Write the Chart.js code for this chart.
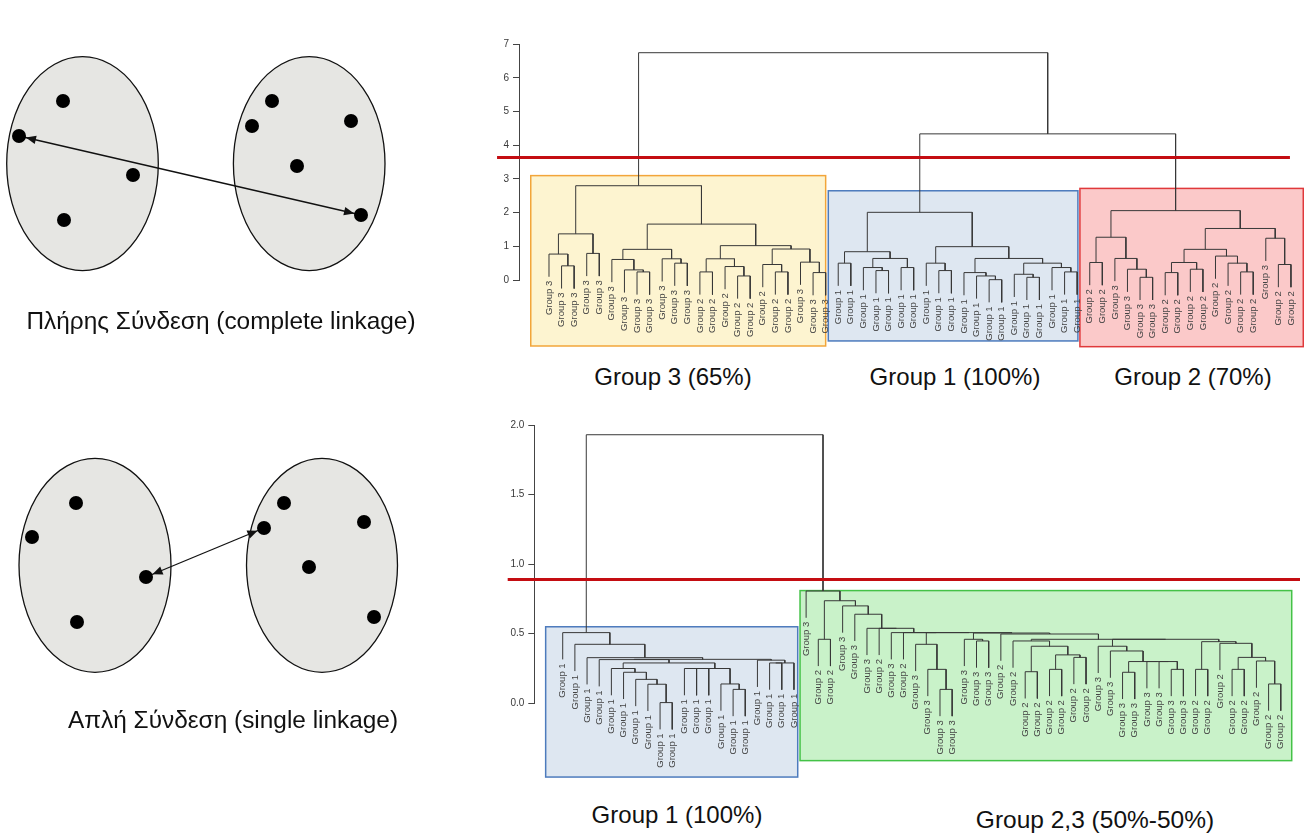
<!DOCTYPE html>
<html>
<head>
<meta charset="utf-8">
<script src="https://cdn.jsdelivr.net/npm/chart.js@4.4.1/dist/chart.umd.min.js"></script>
<style>
  html, body { margin: 0; padding: 0; background: #fff; }
  body { width: 1304px; height: 836px; position: relative; overflow: hidden; font-family: "Liberation Sans", Arial, sans-serif; }
  canvas { position: absolute; }
  .cap { position: absolute; transform: translate(-50%, -50%); white-space: nowrap; color: #111; font-size: 24px; }
</style>
</head>
<body>
<canvas id="diag-complete" width="420" height="300" style="left:0;top:40px"></canvas>
<canvas id="diag-single" width="420" height="300" style="left:0;top:440px"></canvas>
<canvas id="dendro-complete" width="834" height="340" style="left:470px;top:20px"></canvas>
<canvas id="dendro-single" width="834" height="375" style="left:470px;top:410px"></canvas>

<div class="cap" style="left:221px;top:321px;font-size:24.4px">Πλήρης Σύνδεση (complete linkage)</div>
<div class="cap" style="left:233px;top:720px;font-size:24.4px">Απλή Σύνδεση (single linkage)</div>
<div class="cap" style="left:673px;top:377px">Group 3 (65%)</div>
<div class="cap" style="left:955px;top:377px">Group 1 (100%)</div>
<div class="cap" style="left:1193px;top:377px">Group 2 (70%)</div>
<div class="cap" style="left:677px;top:815px">Group 1 (100%)</div>
<div class="cap" style="left:1095px;top:820px;font-size:24.5px">Group 2,3 (50%-50%)</div>

<script>
// ---- toy clusters (left) : point positions inside each panel ----
const completePtsX = [63, 19, 133, 64, 272, 252, 351, 297, 361];
const completePtsY = [61, 96, 135, 180, 61, 86, 81, 126, 175];
const completeLink = [1, 8];   // the two farthest points
const singlePtsX = [76, 32, 146, 77, 284, 264, 364, 309, 374];
const singlePtsY = [63, 97, 137, 182, 63, 88, 82, 127, 177];
const singleLink = [2, 5];     // the two nearest points

// ---- complete linkage dendrogram (hclust style: -k = leaf k, +k = merge row k) ----
const topLeafGroups = [3,3,3,3,3,3,3,3,3,3,3,3, 2,2,2,2,2,2,2,2, 3,3,3,
  1,1,1,1,1,1,1,1,1,1,1,1,1,1,1,1,1,1,1,1,
  2,2,3,3,3,3,2,2,2,2,2,2,2,2,3,2,2];
const topMerges = [[-2,-3],[-1,1],[-4,-5],[2,3],[-8,-9],[-7,5],[-6,6],[-11,-12],[-10,8],[7,9],
  [-13,-14],[-16,-17],[-15,12],[11,13],[-19,-20],[-18,15],[-22,-23],[-21,17],[16,18],[14,19],[10,20],[4,21],
  [-24,-25],[-27,-28],[-26,24],[-29,-30],[25,26],[23,27],[-32,-33],[-31,29],[-36,-37],[-35,31],[-34,32],
  [-39,-40],[-38,34],[-42,-43],[-41,36],[35,37],[33,38],[30,39],[28,40],
  [-44,-45],[-48,-49],[-47,43],[-46,44],[42,45],[-50,-51],[-52,-53],[47,48],[-56,-57],[-55,50],[-54,51],
  [49,52],[-59,-60],[-58,54],[53,55],[46,56],[41,57],[22,58]];
const topHeights = [0.42,0.77,0.79,1.37,0.24,0.30,0.61,0.50,0.63,0.91,
  0.24,0.12,0.40,0.63,0.24,0.46,0.22,0.53,0.92,1.02,1.66,2.80,
  0.50,0.28,0.37,0.37,0.64,0.84,0.28,0.50,0.01,0.12,0.22,
  0.08,0.17,0.24,0.37,0.50,0.64,0.99,2.01,
  0.52,0.08,0.32,0.64,1.27,0.22,0.32,0.52,0.24,0.50,0.71,
  0.91,0.46,1.24,1.53,2.06,4.34,6.75];
const topCut = 3.64;

// ---- single linkage dendrogram ----
const botLeafGroups = [1,1,1,1,1,1,1,1,1,1,1,1,1,1,1,1,1,1,1,1,
  3,2,2,3,3,3,2,3,2,3, 3,3,3,3,3,3,2,2,2,2,
  2,2,2,2,3,3,3,3,3,3, 3,3,2,2,2,2,2,2,2,2];
const botMerges = [[-15,-16],[-14,1],[-11,-12],[3,-13],[4,2],[-9,-10],[-8,6],[-7,7],[-6,8],[-5,9],
  [-18,-19],[11,-20],[-17,12],[10,5],[-4,14],[15,13],[-3,16],[-2,17],[-1,18],
  [-22,-23],[-32,-33],[-31,21],[-30,22],[-35,-36],[-34,24],[-39,-40],[-41,-42],[-43,-44],[27,28],
  [26,29],[-38,30],[-47,-48],[-51,-52],[-50,33],[-49,34],[32,35],[-46,36],[-45,37],[-53,-54],
  [-59,-60],[-58,40],[-56,-57],[42,41],[-55,43],[39,44],[38,45],[31,46],[-37,47],[25,48],
  [23,49],[-29,50],[-28,51],[-27,52],[-26,53],[-25,54],[-24,55],[20,56],[-21,57],[19,58]];
const botHeights = [0.10,0.139,0.25,0.25,0.25,0.005,0.137,0.172,0.223,0.25,
  0.29,0.29,0.31,0.29,0.314,0.316,0.328,0.424,0.508,
  0.46,0.10,0.244,0.424,0.448,0.46,0.227,0.244,0.33,0.348,
  0.41,0.448,0.223,0.244,0.30,0.30,0.30,0.376,0.41,0.244,
  0.139,0.304,0.244,0.33,0.431,0.443,0.46,0.46,0.498,0.505,
  0.508,0.508,0.508,0.539,0.539,0.64,0.70,0.737,0.807,1.93];
const botCut = 0.89;

const FONT = '"Liberation Sans", Arial, sans-serif';

// ---------- left panels ----------
function clusterDiagram(id, xs, ys, link, blobs) {
  const pts = xs.map((x, i) => ({ x, y: ys[i] }));
  const decor = {
    id: 'blobs',
    beforeDatasetsDraw(chart) {
      const { ctx, scales: { x, y } } = chart;
      ctx.save();
      blobs.forEach(b => {
        const cx = x.getPixelForValue(b.cx), cy = y.getPixelForValue(b.cy);
        const rx = Math.abs(x.getPixelForValue(b.cx + b.rx) - cx);
        const ry = Math.abs(y.getPixelForValue(b.cy + b.ry) - cy);
        ctx.beginPath();
        ctx.ellipse(cx, cy, rx, ry, 0, 0, Math.PI * 2);
        ctx.fillStyle = '#e6e6e3';
        ctx.fill();
        ctx.lineWidth = 1.3;
        ctx.strokeStyle = '#111';
        ctx.stroke();
      });
      ctx.restore();
    },
    afterDatasetsDraw(chart) {
      const { ctx, scales: { x, y } } = chart;
      const a = pts[link[0]], b = pts[link[1]];
      const ax = x.getPixelForValue(a.x), ay = y.getPixelForValue(a.y);
      const bx = x.getPixelForValue(b.x), by = y.getPixelForValue(b.y);
      const ang = Math.atan2(by - ay, bx - ax);
      const head = (px, py, dir) => {
        const tx = px + Math.cos(dir) * 7, ty = py + Math.sin(dir) * 7;
        ctx.beginPath();
        ctx.moveTo(tx, ty);
        ctx.lineTo(tx + Math.cos(dir + 0.4) * 11, ty + Math.sin(dir + 0.4) * 11);
        ctx.lineTo(tx + Math.cos(dir - 0.4) * 11, ty + Math.sin(dir - 0.4) * 11);
        ctx.closePath();
        ctx.fill();
      };
      ctx.save();
      ctx.fillStyle = '#111';
      head(ax, ay, ang);
      head(bx, by, ang + Math.PI);
      ctx.restore();
    }
  };
  return new Chart(document.getElementById(id), {
    type: 'scatter',
    data: {
      datasets: [
        { data: pts, pointRadius: 7, pointHoverRadius: 7, backgroundColor: '#000', borderWidth: 0, order: 0, clip: false },
        { data: [pts[link[0]], pts[link[1]]], showLine: true, borderColor: '#111', borderWidth: 1.3, pointRadius: 0, order: 1, clip: false }
      ]
    },
    options: {
      responsive: false, animation: false,
      layout: { padding: 0, autoPadding: false },
      plugins: { legend: { display: false }, tooltip: { enabled: false } },
      scales: {
        x: { type: 'linear', display: false, min: 0, max: 420 },
        y: { type: 'linear', display: false, min: 0, max: 300, reverse: true }
      }
    },
    plugins: [decor]
  });
}

clusterDiagram('diag-complete', completePtsX, completePtsY, completeLink, [
  { cx: 82.5, cy: 123.7, rx: 75.8, ry: 107 },
  { cx: 309.2, cy: 123.7, rx: 75.8, ry: 107 }
]);
clusterDiagram('diag-single', singlePtsX, singlePtsY, singleLink, [
  { cx: 95, cy: 125.3, rx: 76, ry: 107 },
  { cx: 322, cy: 125.3, rx: 75.5, ry: 107 }
]);

// ---------- dendrograms ----------
function dendroSegments(merges, heights) {
  const hang = 0.1 * (Math.max(...heights) - Math.min(...heights));
  const nodeX = [], leafEnds = [], pts = [];
  const end = (ref, h) => {
    if (ref < 0) {
      const i = -ref - 1;
      leafEnds[i] = h - hang;
      return { x: i, y: h - hang };
    }
    return { x: nodeX[ref - 1], y: heights[ref - 1] };
  };
  merges.forEach(([a, b], k) => {
    const h = heights[k];
    const A = end(a, h), B = end(b, h);
    nodeX[k] = (A.x + B.x) / 2;
    pts.push(A, { x: A.x, y: h }, { x: B.x, y: h }, B, { x: B.x, y: null });
  });
  return { pts, leafEnds };
}

function dendrogram(id, cfg) {
  const { pts, leafEnds } = dendroSegments(cfg.merges, cfg.heights);
  const labels = cfg.groups.map(g => 'Group ' + g);
  const decor = {
    id: 'dendroDecor',
    beforeDatasetsDraw(chart) {
      const { ctx, scales: { x, y } } = chart;
      ctx.save();
      cfg.boxes.forEach(b => {
        const l = x.getPixelForValue(b.x0), r = x.getPixelForValue(b.x1);
        const t = y.getPixelForValue(b.y1), btm = y.getPixelForValue(b.y0);
        ctx.fillStyle = b.fill;
        ctx.fillRect(l, t, r - l, btm - t);
        ctx.lineWidth = 1.5;
        ctx.strokeStyle = b.stroke;
        ctx.strokeRect(l, t, r - l, btm - t);
      });
      ctx.restore();
    },
    afterDatasetsDraw(chart) {
      const { ctx, scales: { x, y } } = chart;
      ctx.save();
      ctx.font = '9.5px ' + FONT;
      ctx.fillStyle = '#444';
      ctx.textAlign = 'right';
      ctx.textBaseline = 'middle';
      labels.forEach((lab, i) => {
        ctx.save();
        ctx.translate(x.getPixelForValue(i), y.getPixelForValue(leafEnds[i]) + 4);
        ctx.rotate(-Math.PI / 2);
        ctx.fillText(lab, 0, 0);
        ctx.restore();
      });
      const cy = y.getPixelForValue(cfg.cut);
      ctx.beginPath();
      ctx.moveTo(x.getPixelForValue(cfg.cutFrom), cy);
      ctx.lineTo(x.getPixelForValue(cfg.cutTo), cy);
      ctx.lineWidth = 3;
      ctx.strokeStyle = '#c40d12';
      ctx.stroke();
      ctx.restore();
    }
  };
  return new Chart(document.getElementById(id), {
    type: 'scatter',
    data: {
      datasets: [{
        data: pts, showLine: true, spanGaps: false, clip: false,
        borderColor: '#383838', borderWidth: 1, pointRadius: 0, pointHoverRadius: 0, tension: 0
      }]
    },
    options: {
      responsive: false, animation: false,
      layout: { padding: cfg.padding, autoPadding: false },
      plugins: { legend: { display: false }, tooltip: { enabled: false } },
      scales: {
        x: { type: 'linear', display: false, min: cfg.xMin, max: cfg.xMax },
        y: {
          type: 'linear', min: 0, max: cfg.yMax,
          afterFit: s => { s.width = 30; },
          grid: { drawOnChartArea: false, drawTicks: true, tickLength: 6, color: '#444' },
          border: { display: true, color: '#444', width: 1 },
          ticks: {
            stepSize: cfg.step, autoSkip: false, padding: 4, color: '#3a3a3a',
            font: { family: FONT, size: 10 },
            callback: v => cfg.step < 1 ? v.toFixed(1) : String(v)
          }
        }
      }
    },
    plugins: [decor]
  });
}

dendrogram('dendro-complete', {
  merges: topMerges, heights: topHeights, groups: topLeafGroups,
  cut: topCut, cutFrom: -4.13, cutTo: 58.92,
  yMax: 7, step: 1, xMin: -2.385, xMax: 59.72,
  padding: { left: 19, right: 4, top: 24.3, bottom: 80 },
  boxes: [
    { x0: -1.45, x1: 22.0, y0: -1.96, y1: 3.10, fill: '#fdf4d0', stroke: '#f2a53a' },
    { x0: 22.21, x1: 42.06, y0: -1.81, y1: 2.65, fill: '#dee7f1', stroke: '#4d7bbd' },
    { x0: 42.22, x1: 59.98, y0: -1.98, y1: 2.72, fill: '#fbc9c9', stroke: '#e0393b' }
  ]
});

dendrogram('dendro-single', {
  merges: botMerges, heights: botHeights, groups: botLeafGroups,
  cut: botCut, cutFrom: -4.52, cutTo: 60.58,
  yMax: 2, step: 0.5, xMin: -2.334, xMax: 60.58,
  padding: { left: 34.3, right: 4, top: 15, bottom: 81.7 },
  boxes: [
    { x0: -1.40, x1: 19.31, y0: -0.53, y1: 0.55, fill: '#dee7f1', stroke: '#4d7bbd' },
    { x0: 19.5, x1: 59.9, y0: -0.412, y1: 0.81, fill: '#c9f2c9', stroke: '#44c247' }
  ]
});
</script>
</body>
</html>
